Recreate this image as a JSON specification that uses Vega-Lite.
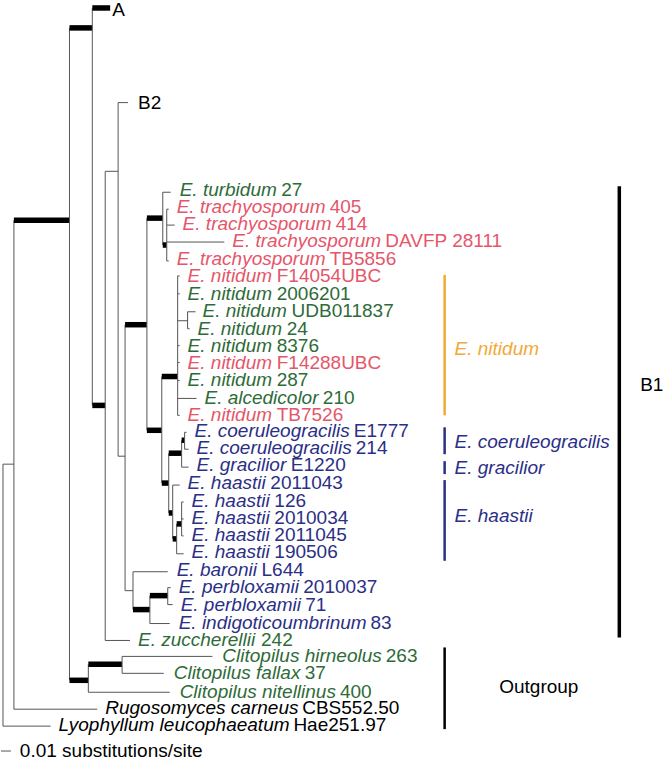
{
  "$schema": "https://vega.github.io/schema/vega-lite/v6.json",
  "width": 664,
  "height": 761,
  "autosize": {"type": "fit", "contains": "padding"},
  "padding": 0,
  "background": "white",
  "config": {"view": {"stroke": null}, "text": {"font": "Liberation Sans"}},
  "datasets": {
    "branches": [
      {"x1": 2, "y1": 466, "x2": 2, "y2": 729, "s": "weak"},
      {"x1": 2, "y1": 466, "x2": 13, "y2": 466, "s": "weak"},
      {"x1": 2, "y1": 729, "x2": 50, "y2": 729, "s": "weak"},
      {"x1": 13, "y1": 221, "x2": 13, "y2": 712, "s": "weak"},
      {"x1": 13, "y1": 712, "x2": 97, "y2": 712, "s": "weak"},
      {"x1": 13, "y1": 221, "x2": 69, "y2": 221, "s": "strong"},
      {"x1": 69, "y1": 28, "x2": 69, "y2": 683, "s": "weak"},
      {"x1": 69, "y1": 28, "x2": 92, "y2": 28, "s": "strong"},
      {"x1": 69, "y1": 683, "x2": 88, "y2": 683, "s": "strong"},
      {"x1": 88, "y1": 667, "x2": 88, "y2": 695, "s": "weak"},
      {"x1": 88, "y1": 667, "x2": 122, "y2": 667, "s": "strong"},
      {"x1": 122, "y1": 659, "x2": 122, "y2": 676, "s": "weak"},
      {"x1": 122, "y1": 659, "x2": 213, "y2": 659, "s": "weak"},
      {"x1": 122, "y1": 676, "x2": 164, "y2": 676, "s": "weak"},
      {"x1": 88, "y1": 695, "x2": 170, "y2": 695, "s": "weak"},
      {"x1": 92, "y1": 8, "x2": 92, "y2": 407, "s": "weak"},
      {"x1": 92, "y1": 8, "x2": 110, "y2": 8, "s": "strong"},
      {"x1": 92, "y1": 407, "x2": 105, "y2": 407, "s": "strong"},
      {"x1": 105, "y1": 172, "x2": 105, "y2": 643, "s": "weak"},
      {"x1": 105, "y1": 172, "x2": 118, "y2": 172, "s": "weak"},
      {"x1": 105, "y1": 643, "x2": 130, "y2": 643, "s": "weak"},
      {"x1": 118, "y1": 103, "x2": 118, "y2": 458, "s": "weak"},
      {"x1": 118, "y1": 103, "x2": 128, "y2": 103, "s": "weak"},
      {"x1": 118, "y1": 458, "x2": 125, "y2": 458, "s": "weak"},
      {"x1": 125, "y1": 326, "x2": 125, "y2": 593, "s": "weak"},
      {"x1": 125, "y1": 326, "x2": 147, "y2": 326, "s": "strong"},
      {"x1": 125, "y1": 593, "x2": 133, "y2": 593, "s": "weak"},
      {"x1": 133, "y1": 574, "x2": 133, "y2": 612, "s": "weak"},
      {"x1": 133, "y1": 574, "x2": 168, "y2": 574, "s": "weak"},
      {"x1": 133, "y1": 612, "x2": 150, "y2": 612, "s": "strong"},
      {"x1": 150, "y1": 598, "x2": 150, "y2": 626, "s": "weak"},
      {"x1": 150, "y1": 598, "x2": 168, "y2": 598, "s": "strong"},
      {"x1": 150, "y1": 626, "x2": 170, "y2": 626, "s": "weak"},
      {"x1": 168, "y1": 590, "x2": 168, "y2": 607, "s": "weak"},
      {"x1": 168, "y1": 590, "x2": 171, "y2": 590, "s": "weak"},
      {"x1": 168, "y1": 607, "x2": 173, "y2": 607, "s": "weak"},
      {"x1": 147, "y1": 219, "x2": 147, "y2": 432, "s": "weak"},
      {"x1": 147, "y1": 219, "x2": 163, "y2": 219, "s": "strong"},
      {"x1": 163, "y1": 193, "x2": 163, "y2": 246, "s": "weak"},
      {"x1": 163, "y1": 193, "x2": 171, "y2": 193, "s": "weak"},
      {"x1": 163, "y1": 246, "x2": 167, "y2": 246, "s": "strong"},
      {"x1": 167, "y1": 210, "x2": 167, "y2": 262, "s": "weak"},
      {"x1": 167, "y1": 210, "x2": 169, "y2": 210, "s": "weak"},
      {"x1": 167, "y1": 226, "x2": 175, "y2": 226, "s": "weak"},
      {"x1": 167, "y1": 243, "x2": 225, "y2": 243, "s": "weak"},
      {"x1": 167, "y1": 262, "x2": 169, "y2": 262, "s": "weak"},
      {"x1": 147, "y1": 432, "x2": 162, "y2": 432, "s": "strong"},
      {"x1": 162, "y1": 378, "x2": 162, "y2": 485, "s": "weak"},
      {"x1": 162, "y1": 378, "x2": 178, "y2": 378, "s": "strong"},
      {"x1": 178, "y1": 277, "x2": 178, "y2": 417, "s": "weak"},
      {"x1": 178, "y1": 277, "x2": 180, "y2": 277, "s": "weak"},
      {"x1": 178, "y1": 295, "x2": 180, "y2": 295, "s": "weak"},
      {"x1": 178, "y1": 322, "x2": 188, "y2": 322, "s": "weak"},
      {"x1": 188, "y1": 313, "x2": 188, "y2": 330, "s": "weak"},
      {"x1": 188, "y1": 313, "x2": 196, "y2": 313, "s": "weak"},
      {"x1": 188, "y1": 330, "x2": 190, "y2": 330, "s": "weak"},
      {"x1": 178, "y1": 347, "x2": 180, "y2": 347, "s": "weak"},
      {"x1": 178, "y1": 364, "x2": 180, "y2": 364, "s": "weak"},
      {"x1": 178, "y1": 382, "x2": 180, "y2": 382, "s": "weak"},
      {"x1": 178, "y1": 400, "x2": 197, "y2": 400, "s": "weak"},
      {"x1": 178, "y1": 417, "x2": 180, "y2": 417, "s": "weak"},
      {"x1": 162, "y1": 485, "x2": 169, "y2": 485, "s": "strong"},
      {"x1": 169, "y1": 455, "x2": 169, "y2": 515, "s": "weak"},
      {"x1": 169, "y1": 455, "x2": 182, "y2": 455, "s": "strong"},
      {"x1": 182, "y1": 442, "x2": 182, "y2": 469, "s": "weak"},
      {"x1": 182, "y1": 442, "x2": 185, "y2": 442, "s": "strong"},
      {"x1": 185, "y1": 434, "x2": 185, "y2": 451, "s": "weak"},
      {"x1": 185, "y1": 434, "x2": 187, "y2": 434, "s": "weak"},
      {"x1": 185, "y1": 451, "x2": 189, "y2": 451, "s": "weak"},
      {"x1": 182, "y1": 469, "x2": 189, "y2": 469, "s": "weak"},
      {"x1": 169, "y1": 515, "x2": 173, "y2": 515, "s": "strong"},
      {"x1": 173, "y1": 487, "x2": 173, "y2": 541, "s": "weak"},
      {"x1": 173, "y1": 487, "x2": 180, "y2": 487, "s": "weak"},
      {"x1": 173, "y1": 541, "x2": 177, "y2": 541, "s": "strong"},
      {"x1": 177, "y1": 526, "x2": 177, "y2": 556, "s": "weak"},
      {"x1": 177, "y1": 526, "x2": 182, "y2": 526, "s": "strong"},
      {"x1": 182, "y1": 504, "x2": 182, "y2": 538, "s": "weak"},
      {"x1": 182, "y1": 504, "x2": 184, "y2": 504, "s": "weak"},
      {"x1": 182, "y1": 521, "x2": 184, "y2": 521, "s": "weak"},
      {"x1": 182, "y1": 538, "x2": 184, "y2": 538, "s": "weak"},
      {"x1": 177, "y1": 556, "x2": 184, "y2": 556, "s": "weak"},
      {"x1": 0, "y1": 754, "x2": 10, "y2": 754, "s": "weak"}
    ],
    "bars": [
      {"x": 447, "y1": 276, "y2": 417, "grp": "orange", "level": "clade"},
      {"x": 447, "y1": 429, "y2": 456, "grp": "blue", "level": "clade"},
      {"x": 447, "y1": 463, "y2": 476, "grp": "blue", "level": "clade"},
      {"x": 447, "y1": 482, "y2": 563, "grp": "blue", "level": "clade"},
      {"x": 447, "y1": 650, "y2": 732, "grp": "black", "level": "clade"},
      {"x": 623, "y1": 187, "y2": 640, "grp": "black", "level": "major"}
    ],
    "tips": [
      {"taxon": "E. turbidum", "strain": "27", "lx": 180, "sx": 282.4, "y": 191, "grp": "green"},
      {"taxon": "E. trachyosporum", "strain": "405", "lx": 177, "sx": 331.2, "y": 208, "grp": "red"},
      {"taxon": "E. trachyosporum", "strain": "414", "lx": 183, "sx": 337.2, "y": 225, "grp": "red"},
      {"taxon": "E. trachyosporum", "strain": "DAVFP 28111", "lx": 233, "sx": 387.2, "y": 242, "grp": "red"},
      {"taxon": "E. trachyosporum", "strain": "TB5856", "lx": 177, "sx": 331.2, "y": 260, "grp": "red"},
      {"taxon": "E. nitidum", "strain": "F14054UBC", "lx": 188, "sx": 277.8, "y": 277, "grp": "red"},
      {"taxon": "E. nitidum", "strain": "2006201", "lx": 188, "sx": 277.8, "y": 295, "grp": "green"},
      {"taxon": "E. nitidum", "strain": "UDB011837", "lx": 203, "sx": 292.8, "y": 312, "grp": "green"},
      {"taxon": "E. nitidum", "strain": "24", "lx": 198, "sx": 287.8, "y": 330, "grp": "green"},
      {"taxon": "E. nitidum", "strain": "8376", "lx": 188, "sx": 277.8, "y": 347, "grp": "green"},
      {"taxon": "E. nitidum", "strain": "F14288UBC", "lx": 188, "sx": 277.8, "y": 364, "grp": "red"},
      {"taxon": "E. nitidum", "strain": "287", "lx": 188, "sx": 277.8, "y": 382, "grp": "green"},
      {"taxon": "E. alcedicolor", "strain": "210", "lx": 205, "sx": 324.3, "y": 400, "grp": "green"},
      {"taxon": "E. nitidum", "strain": "TB7526", "lx": 188, "sx": 277.8, "y": 417, "grp": "red"},
      {"taxon": "E. coeruleogracilis", "strain": "E1777", "lx": 195, "sx": 355.5, "y": 433, "grp": "blue"},
      {"taxon": "E. coeruleogracilis", "strain": "214", "lx": 197, "sx": 357.5, "y": 450, "grp": "blue"},
      {"taxon": "E. gracilior", "strain": "E1220", "lx": 197, "sx": 292, "y": 467, "grp": "blue"},
      {"taxon": "E. haastii", "strain": "2011043", "lx": 188, "sx": 271.4, "y": 485, "grp": "blue"},
      {"taxon": "E. haastii", "strain": "126", "lx": 192, "sx": 275.4, "y": 503, "grp": "blue"},
      {"taxon": "E. haastii", "strain": "2010034", "lx": 192, "sx": 275.4, "y": 520, "grp": "blue"},
      {"taxon": "E. haastii", "strain": "2011045", "lx": 192, "sx": 275.4, "y": 537, "grp": "blue"},
      {"taxon": "E. haastii", "strain": "190506", "lx": 192, "sx": 275.4, "y": 554, "grp": "blue"},
      {"taxon": "E. baronii", "strain": "L644", "lx": 177, "sx": 262.5, "y": 572, "grp": "blue"},
      {"taxon": "E. perbloxamii", "strain": "2010037", "lx": 179, "sx": 304.6, "y": 589, "grp": "blue"},
      {"taxon": "E. perbloxamii", "strain": "71", "lx": 181, "sx": 306.6, "y": 607, "grp": "blue"},
      {"taxon": "E. indigoticoumbrinum", "strain": "83", "lx": 179, "sx": 372.2, "y": 625, "grp": "blue"},
      {"taxon": "E. zuccherellii", "strain": "242", "lx": 138, "sx": 262, "y": 643, "grp": "green"},
      {"taxon": "Clitopilus hirneolus", "strain": "263", "lx": 223, "sx": 387.7, "y": 659, "grp": "green"},
      {"taxon": "Clitopilus fallax", "strain": "37", "lx": 174, "sx": 306, "y": 676, "grp": "green"},
      {"taxon": "Clitopilus nitellinus", "strain": "400", "lx": 180, "sx": 341.5, "y": 695, "grp": "green"},
      {"taxon": "Rugosomyces carneus", "strain": "CBS552.50", "lx": 105, "sx": 303.5, "y": 711, "grp": "black"},
      {"taxon": "Lyophyllum leucophaeatum", "strain": "Hae251.97", "lx": 58, "sx": 294.6, "y": 728, "grp": "black"}
    ],
    "cladeLabels": [
      {"label": "E. nitidum", "x": 457, "y": 350, "grp": "orange"},
      {"label": "E. coeruleogracilis", "x": 457, "y": 444, "grp": "blue"},
      {"label": "E. gracilior", "x": 457, "y": 470, "grp": "blue"},
      {"label": "E. haastii", "x": 457, "y": 518, "grp": "blue"}
    ],
    "plainLabels": [
      {"label": "A", "x": 112, "y": 10.5},
      {"label": "B2", "x": 138, "y": 103},
      {"label": "B1", "x": 644, "y": 387},
      {"label": "Outgroup", "x": 502, "y": 690},
      {"label": "0.01 substitutions/site", "x": 19, "y": 754}
    ]
  },
  "layer": [
    {
      "data": {"name": "branches"},
      "mark": {"type": "rule", "strokeCap": "butt"},
      "encoding": {
        "x": {"field": "x1", "type": "quantitative", "scale": {"domain": [0, 664], "nice": false, "zero": false}, "axis": null},
        "x2": {"field": "x2"},
        "y": {"field": "y1", "type": "quantitative", "scale": {"domain": [0, 761], "nice": false, "zero": false, "reverse": true}, "axis": null},
        "y2": {"field": "y2"},
        "strokeWidth": {"field": "s", "type": "nominal", "scale": {"domain": ["weak", "strong"], "range": [1, 5.5]}, "legend": null},
        "color": {"field": "s", "type": "nominal", "scale": {"domain": ["weak", "strong"], "range": ["#555555", "#000000"]}, "legend": null}
      }
    },
    {
      "data": {"name": "bars"},
      "mark": {"type": "rule", "strokeCap": "butt"},
      "encoding": {
        "x": {"field": "x", "type": "quantitative"},
        "y": {"field": "y1", "type": "quantitative"},
        "y2": {"field": "y2"},
        "strokeWidth": {"field": "level", "type": "nominal", "scale": {"domain": ["clade", "major"], "range": [2.5, 3.5]}, "legend": null},
        "color": {"field": "grp", "type": "nominal", "scale": {"domain": ["green", "red", "blue", "black", "orange"], "range": ["#2e6b38", "#e5566a", "#2b2f86", "#000000", "#f2a935"]}, "legend": null}
      }
    },
    {
      "data": {"name": "tips"},
      "mark": {"type": "text", "align": "left", "baseline": "middle", "fontSize": 19, "fontStyle": "italic"},
      "encoding": {
        "x": {"field": "lx", "type": "quantitative"},
        "y": {"field": "y", "type": "quantitative"},
        "text": {"field": "taxon"},
        "color": {"field": "grp", "type": "nominal", "scale": {"domain": ["green", "red", "blue", "black", "orange"], "range": ["#2e6b38", "#e5566a", "#2b2f86", "#000000", "#f2a935"]}, "legend": null}
      }
    },
    {
      "data": {"name": "tips"},
      "mark": {"type": "text", "align": "left", "baseline": "middle", "fontSize": 19},
      "encoding": {
        "x": {"field": "sx", "type": "quantitative"},
        "y": {"field": "y", "type": "quantitative"},
        "text": {"field": "strain"},
        "color": {"field": "grp", "type": "nominal", "scale": {"domain": ["green", "red", "blue", "black", "orange"], "range": ["#2e6b38", "#e5566a", "#2b2f86", "#000000", "#f2a935"]}, "legend": null}
      }
    },
    {
      "data": {"name": "cladeLabels"},
      "mark": {"type": "text", "align": "left", "baseline": "middle", "fontSize": 19, "fontStyle": "italic"},
      "encoding": {
        "x": {"field": "x", "type": "quantitative"},
        "y": {"field": "y", "type": "quantitative"},
        "text": {"field": "label"},
        "color": {"field": "grp", "type": "nominal", "scale": {"domain": ["green", "red", "blue", "black", "orange"], "range": ["#2e6b38", "#e5566a", "#2b2f86", "#000000", "#f2a935"]}, "legend": null}
      }
    },
    {
      "data": {"name": "plainLabels"},
      "mark": {"type": "text", "align": "left", "baseline": "middle", "fontSize": 19, "color": "#000000"},
      "encoding": {
        "x": {"field": "x", "type": "quantitative"},
        "y": {"field": "y", "type": "quantitative"},
        "text": {"field": "label"}
      }
    }
  ],
  "resolve": {"scale": {"color": "independent", "strokeWidth": "independent"}}
}
